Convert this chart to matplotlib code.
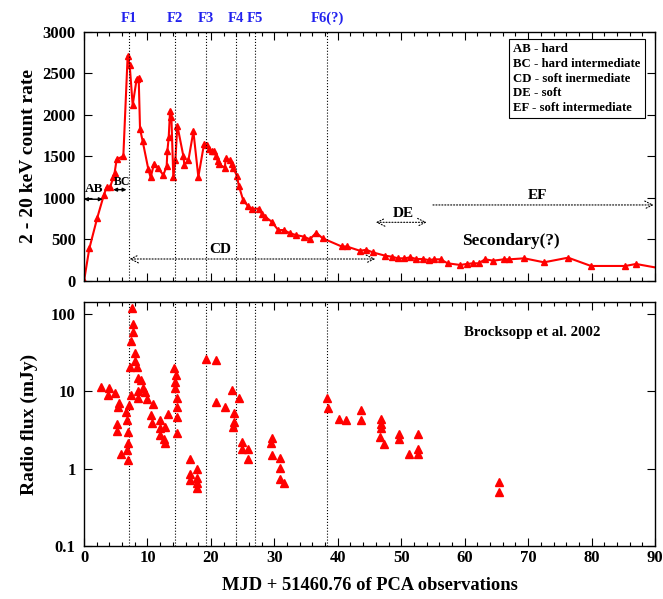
import numpy as np
import matplotlib.pyplot as plt
from matplotlib.ticker import MultipleLocator, FixedLocator, FixedFormatter

plt.rcParams['font.family'] = ['Liberation Serif', 'DejaVu Serif']
plt.rcParams['font.weight'] = 'bold'

# X-ray (2-20 keV) light curve
xray_t = [0.0, 0.84, 2.1, 3.15, 3.57, 4.1, 4.62, 4.83, 5.15, 6.2, 6.88, 7.2, 7.67, 8.3, 8.62,
          8.83, 9.25, 10.14, 10.5, 11.04, 11.72, 12.5, 13.03, 13.14, 13.35, 13.56, 13.77,
          14.08, 14.4, 14.71, 15.66, 15.82, 16.45, 17.24, 18.02, 18.92, 19.34, 19.76, 20.1,
          20.5, 20.8, 21.07, 21.3, 22.2, 22.33, 23.0, 23.3, 23.5, 24.1, 24.4, 25.1, 25.9,
          26.4, 27.6, 28.0, 28.6, 29.6, 30.6, 31.5, 32.5, 33.4, 34.6, 35.6, 36.6, 37.6,
          40.6, 41.4, 43.5, 44.5, 45.5, 47.45, 48.5, 49.5, 50.5, 51.4, 52.4, 53.4, 54.3,
          55.2, 56.2, 57.3, 59.3, 60.3, 61.3, 62.2, 63.2, 64.5, 66.2, 67.0, 69.4, 72.5,
          76.3, 79.9, 85.3, 87.0, 91.0]
xray_rate = [0, 392, 764, 1041, 1129, 1129, 1247, 1307, 1465, 1505, 2713, 2602, 2119, 2435, 2443,
             1833, 1683, 1346, 1247, 1414, 1358, 1275, 1386, 1564, 1731, 2047, 1980,
             1247, 1453, 1873, 1505, 1398, 1453, 1802, 1255, 1651, 1635, 1592, 1564,
             1572, 1505, 1445, 1406, 1366, 1477, 1453, 1406, 1366, 1267, 1148, 970, 899,
             871, 871, 812, 772, 713, 614, 614, 574, 554, 535, 503, 582, 515,
             416, 416, 364, 376, 345, 305, 293, 273, 273, 285, 265, 265, 253,
             261, 261, 213, 193, 205, 213, 213, 261, 245, 261, 261, 273, 225,
             281, 181, 181, 205, 150]

# Radio flux (Brocksopp et al. 2002)
radio_t = [2.63, 3.89, 3.78, 4.89, 5.57, 5.31, 6.57, 6.73, 5.25, 5.25, 6.99, 6.88, 6.73, 5.83,
           6.88, 7.15, 7.36, 7.25, 7.41, 7.57, 7.78, 7.78, 8.09, 8.09, 8.3, 8.57, 8.93, 8.46,
           8.46, 9.25, 9.67, 9.88, 10.83, 10.6, 10.67, 11.98, 11.98, 11.98, 12.77, 12.66,
           12.77, 13.3, 14.24, 14.45, 14.29, 14.29, 14.71, 14.71, 14.71, 14.71, 16.71, 16.71,
           16.71, 17.76, 17.76, 17.87, 17.87, 19.18, 20.86, 20.76, 22.23, 23.38, 24.43, 23.65,
           23.65, 23.54, 24.9, 24.86, 25.85, 25.85, 29.64, 29.48, 29.64, 30.95, 30.95, 30.95,
           31.58, 38.36, 38.52, 40.15, 41.3, 43.67, 43.67, 46.76, 46.76, 46.76, 46.7, 47.28,
           49.65, 49.65, 51.23, 52.7, 52.7, 52.7, 65.47, 65.47]
radio_flux = [11.4, 11.0, 8.9, 9.5, 7.0, 6.2, 5.4, 4.2, 3.75, 3.08, 3.0, 2.13, 1.73, 1.54,
              1.28, 6.6, 8.9, 20.4, 45.1, 120, 74, 57.8, 31.2, 24.8, 20.4, 14.7, 14.1, 10,
              8.3, 11.2, 9.7, 7.9, 6.95, 4.9, 3.94, 4.2, 3.4, 2.7, 3.5, 2.45,
              2.13, 5.06, 19.9, 16.4, 13.4, 11.2, 8.3, 6.2, 4.7, 2.87, 1.32, 0.845,
              0.71, 0.98, 0.76, 0.66, 0.57, 26.1, 25.3, 7.2, 6.2, 10.4, 8.3, 5.3,
              4.07, 3.5, 2.24, 1.82, 1.78, 1.32, 2.52, 2.17, 1.49, 1.39, 1.01, 0.73,
              0.65, 8.1, 6.05, 4.36, 4.2, 5.7, 4.2, 4.45, 3.83, 3.31, 2.56, 2.06,
              2.77, 2.39, 1.57, 2.77, 1.81, 1.57, 0.68, 0.50]

# flare epochs
flare_t = [7.15, 14.3, 19.2, 23.95, 26.95, 38.35]
flare_lbl = ['F1', 'F2', 'F3', 'F4', 'F5', 'F6(?)']

legend_txt = ('AB - hard\nBC - hard intermediate\nCD - soft inermediate\n'
              'DE - soft\nEF - soft intermediate')

fig = plt.figure(figsize=(6.63, 5.99), dpi=100)
ax1 = fig.add_axes([0.1267, 0.5309, 0.8613, 0.4157])
ax2 = fig.add_axes([0.1267, 0.0885, 0.8613, 0.4073])

# top panel
ax1.plot(xray_t, xray_rate, color='red', lw=1.5, marker='^', ms=5, mec='red', clip_on=True)
ax1.set_xlim(0, 90)
ax1.set_ylim(0, 3000)
ax1.yaxis.set_major_locator(MultipleLocator(500))
ax1.set_ylabel('2 - 20 keV count rate', fontsize=14, fontweight='bold')
ax1.yaxis.set_label_coords(-0.083, 0.5)
ax1.tick_params(labelbottom=False)

for t, lb in zip(flare_t, flare_lbl):
    ax1.axvline(t, color='black', ls=':', lw=0.8)
    ax2.axvline(t, color='black', ls=':', lw=0.8)
    ax1.text(t, 1.03, lb, transform=ax1.get_xaxis_transform(), color='#2222ee',
             ha='center', va='bottom', fontsize=10.5, fontweight='bold')

# state arrows
ax1.annotate('', xy=(0.0, 985), xytext=(2.95, 985),
             arrowprops=dict(arrowstyle='<|-|>', color='black', lw=1.0,
                             mutation_scale=5, shrinkA=0, shrinkB=0))
ax1.text(1.6, 1030, 'AB', ha='center', va='bottom', fontsize=9.5)
ax1.annotate('', xy=(4.6, 1100), xytext=(6.7, 1100),
             arrowprops=dict(arrowstyle='<|-|>', color='black', lw=1.0,
                             mutation_scale=5, shrinkA=0, shrinkB=0))
ax1.text(6.0, 1120, 'BC', ha='center', va='bottom', fontsize=8.5)
ax1.annotate('', xy=(7.15, 265), xytext=(45.9, 265),
             arrowprops=dict(arrowstyle='<->', color='black', lw=0.8, ls=':',
                             mutation_scale=14, shrinkA=0, shrinkB=0))
ax1.text(21.4, 300, 'CD', ha='center', va='bottom', fontsize=11)
ax1.annotate('', xy=(46.0, 707), xytext=(54.0, 707),
             arrowprops=dict(arrowstyle='<->', color='black', lw=0.8, ls=':',
                             mutation_scale=14, shrinkA=0, shrinkB=0))
ax1.text(50.3, 740, 'DE', ha='center', va='bottom', fontsize=11)
ax1.annotate('', xy=(89.8, 916), xytext=(55.0, 916),
             arrowprops=dict(arrowstyle='->', color='black', lw=0.8, ls=':',
                             mutation_scale=14, shrinkA=0, shrinkB=0))
ax1.text(71.4, 950, 'EF', ha='center', va='bottom', fontsize=11)
ax1.text(67.3, 482, 'Secondary(?)', ha='center', va='center', fontsize=12.4)

ax1.text(0.752, 0.955, legend_txt, transform=ax1.transAxes, ha='left', va='top',
         fontsize=9.2, linespacing=1.3,
         bbox=dict(boxstyle='square,pad=0.35', fc='white', ec='black', lw=0.8))

# bottom panel
ax2.plot(radio_t, radio_flux, ls='none', marker='^', ms=6, color='red', mec='red')
ax2.set_yscale('log')
ax2.set_xlim(0, 90)
ax2.set_ylim(0.1, 143)
ax2.yaxis.set_major_locator(FixedLocator([0.1, 1, 10, 100]))
ax2.yaxis.set_major_formatter(FixedFormatter(['0.1', '1', '10', '100']))
ax2.yaxis.set_minor_locator(FixedLocator([]))
ax2.set_ylabel('Radio flux (mJy)', fontsize=14, fontweight='bold')
ax2.yaxis.set_label_coords(-0.081, 0.5)
ax2.set_xlabel('MJD + 51460.76 of PCA observations', fontsize=13.3, fontweight='bold',
               labelpad=8)
ax2.text(70.6, 57, 'Brocksopp et al. 2002', ha='center', va='center', fontsize=10.7)

for ax in (ax1, ax2):
    ax.xaxis.set_major_locator(MultipleLocator(10))
    ax.xaxis.set_minor_locator(MultipleLocator(2))
    ax.tick_params(which='both', direction='in', top=True, right=True, labelsize=12)
    ax.tick_params(axis='y', which='both', pad=6)
    ax.tick_params(axis='x', which='both', pad=3)
    ax.tick_params(which='major', length=6, width=0.8)
    ax.tick_params(which='minor', length=3, width=0.8)
    for sp in ax.spines.values():
        sp.set_linewidth(1.0)
    for lab in ax.get_xticklabels() + ax.get_yticklabels():
        lab.set_fontweight('bold')

fig.savefig('out.png', dpi=100)
